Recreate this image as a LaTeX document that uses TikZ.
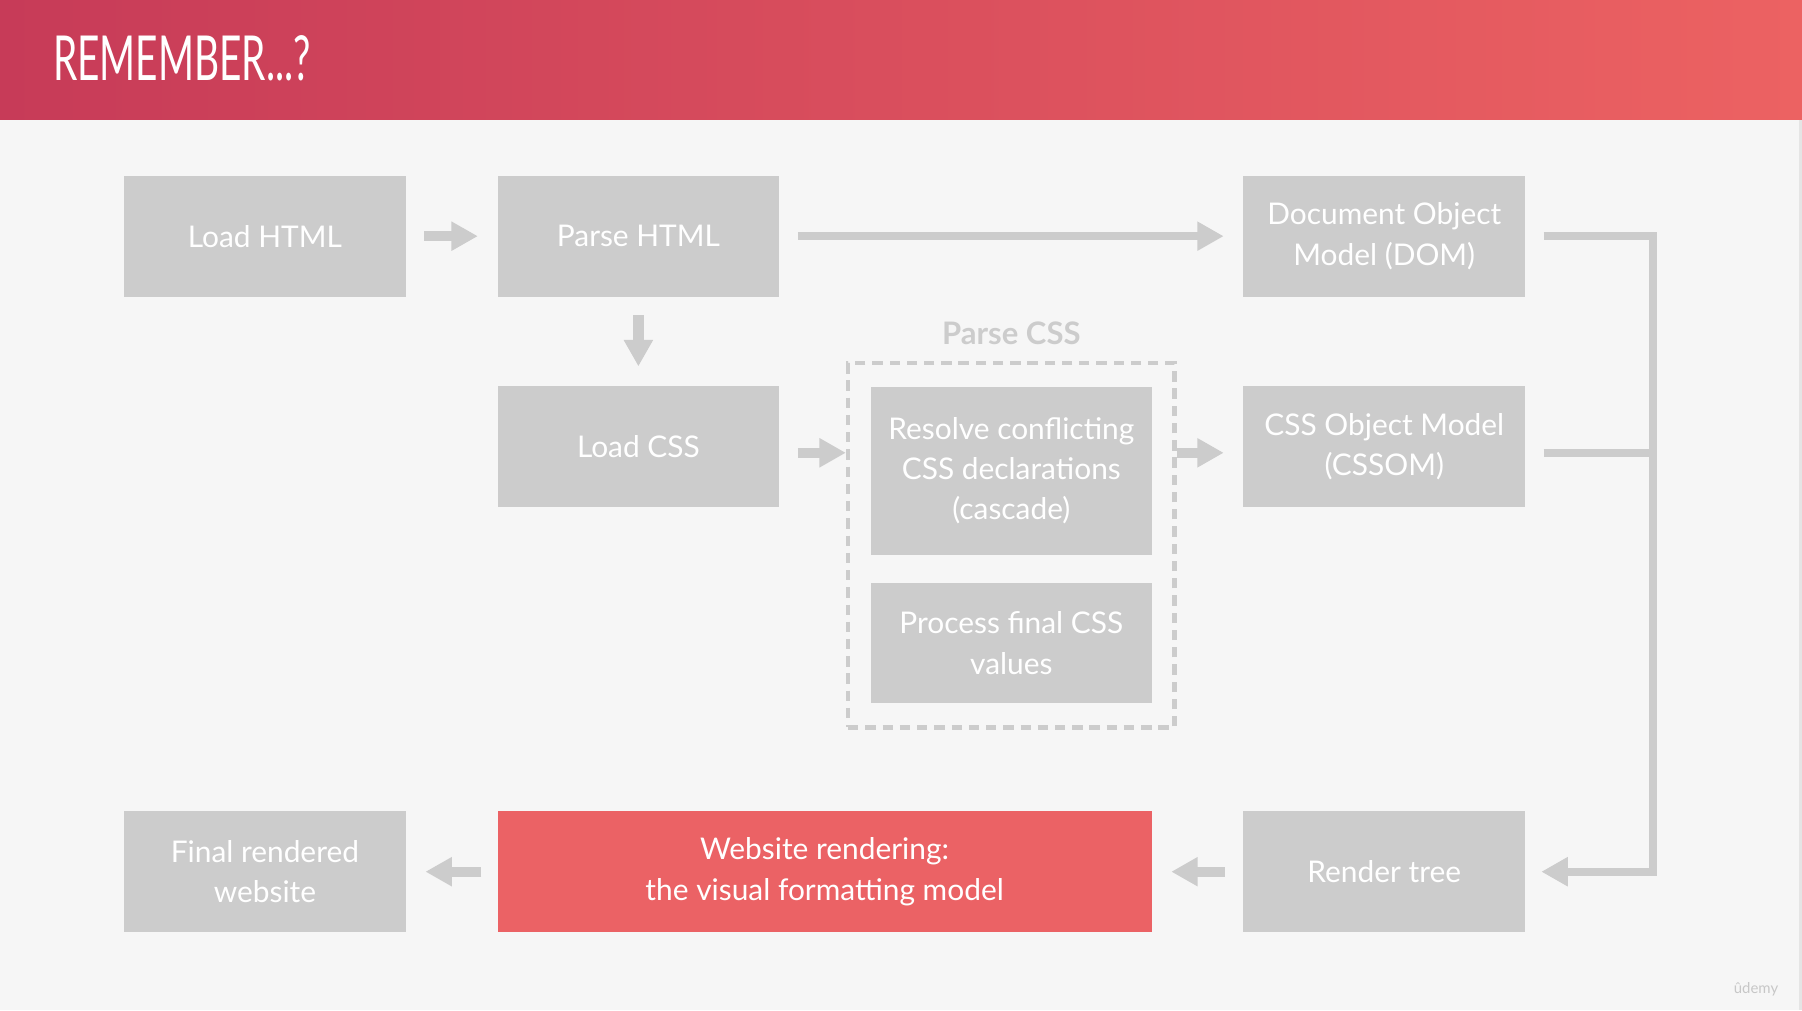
\documentclass[tikz,border=0pt]{standalone}
\usepackage{fontspec}
\setmainfont{Lato}
\usetikzlibrary{arrows.meta}
\definecolor{boxgrey}{HTML}{CCCCCC}
\definecolor{boxred}{HTML}{EB6265}
\definecolor{pagegrey}{HTML}{F6F6F6}
\definecolor{headleft}{HTML}{C73B58}
\definecolor{headright}{HTML}{EC6262}
\begin{document}
\begin{tikzpicture}[x=1pt,y=-1pt,
        grey box/.style={fill=boxgrey, text=white, inner sep=0pt, align=center,
          minimum width=245pt, minimum height=105pt, font=\fontsize{26}{35}\selectfont},
        red box/.style={grey box, fill=boxred, minimum width=569pt},
        dash frame/.style={draw=boxgrey, line width=4pt, dash pattern=on 9pt off 6pt,
          minimum width=284pt, minimum height=317pt, inner sep=0pt},
        fat arrow/.style={draw=boxgrey, line width=9pt, -{Triangle[length=23pt,width=24pt]},
          shorten <=16pt, shorten >=17pt},
        fat line/.style={draw=boxgrey, line width=7pt, line join=miter}]
        % page and header
        \fill[pagegrey] (0,0) rectangle (1568,879);
        \fill[black!10] (1565,104) rectangle (1568,879);
        \shade[left color=headleft, right color=headright] (0,0) rectangle (1568,104);
        \node[anchor=west, text=white, inner sep=0pt, font=\fontsize{54}{54}\selectfont]
          (title) at (46,51) {\scalebox{0.625}[1]{REMEMBER...?}};

        % boxes
        \node[grey box] (lhtml)   at (230.5,205.5)  {Load HTML};
        \node[grey box] (phtml)   at (555.5,205.5)  {Parse HTML};
        \node[grey box] (dom)     at (1204.5,205.5) {Document Object\\Model (DOM)};
        \node[grey box] (lcss)    at (555.5,388.5)  {Load CSS};
        \node[grey box] (cssom)   at (1204.5,388.5) {CSS Object Model\\(CSSOM)};
        \node[grey box, minimum height=146pt]
                        (resolve) at (880,409.5)    {Resolve conflicting\\CSS declarations\\(cascade)};
        \node[grey box] (process) at (880,559.5)    {Process final CSS\\values};
        \node[grey box] (final)   at (230.5,758.5)  {Final rendered\\website};
        \node[red box]  (wrend)   at (717.5,758.5)  {Website rendering:\\the visual formatting model};
        \node[grey box] (rtree)   at (1204.5,758.5) {Render tree};

        % parse css frame
        \node[dash frame] (cssframe) at (880,474.5) {};
        \node[text=boxgrey, font=\fontsize{27}{27}\selectfont\bfseries] (parsecss) at (880,290) {Parse CSS};

        % arrows
        \coordinate (cssrow) at (0,394);
        \coordinate (bus)    at (1438,205.5);
        \draw[fat arrow] (lhtml) -- (phtml);
        \draw[fat arrow, line width=7pt] (phtml) -- (dom);
        \draw[fat arrow] (phtml) -- (lcss);
        \draw[fat arrow, shorten >=0pt] (lcss.east |- cssrow) -- (cssframe.west |- cssrow);
        \draw[fat arrow, shorten <=0pt] (cssframe.east |- cssrow) -- (cssom.west |- cssrow);
        \draw[fat arrow, fat line, shorten >=14pt] (dom.east) -- (bus) |- (rtree.east);
        \draw[fat line, shorten <=16pt] (cssom.east |- cssrow) -- (bus |- cssrow);
        \draw[fat arrow] (rtree) -- (wrend);
        \draw[fat arrow, shorten <=14pt] (wrend) -- (final);

        % watermark
        \node[text=black!22, font=\fontsize{13}{13}\selectfont] (logo) at (1528,861) {ûdemy};
\end{tikzpicture}
\end{document}
